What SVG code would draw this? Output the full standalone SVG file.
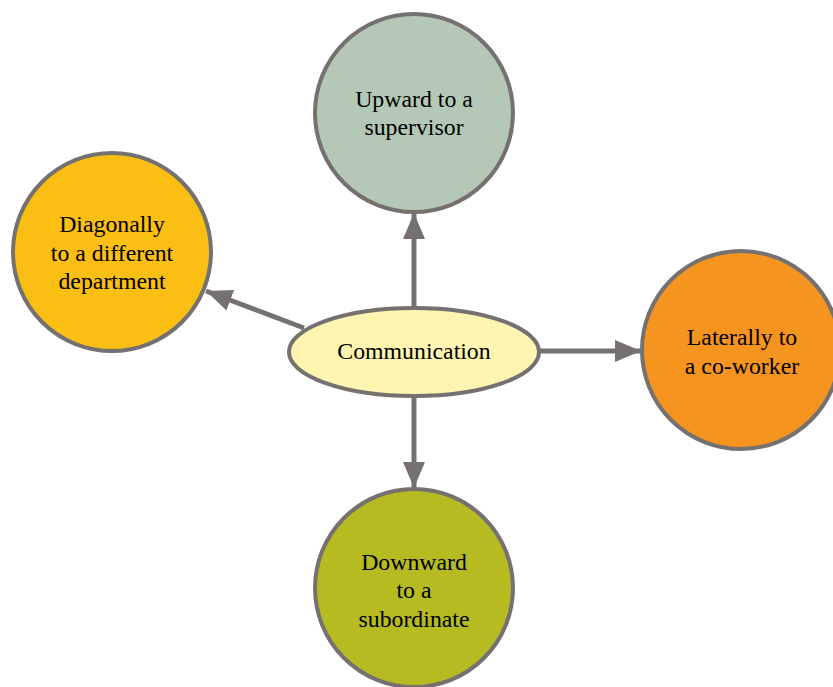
<svg xmlns="http://www.w3.org/2000/svg" width="833" height="687" viewBox="0 0 833 687">
<style>
.n{stroke:#767171;stroke-width:4}
.t{font-family:"Liberation Serif",serif;font-size:23.8px;fill:#000;text-anchor:middle}
.c{stroke:#767171;stroke-width:5;fill:none}
</style>
<defs>
<marker id="ah" markerUnits="userSpaceOnUse" markerWidth="28" markerHeight="22" refX="26" refY="11" orient="auto">
<path d="M0,0 L26,11 L0,22 Z" fill="#767171"/>
</marker>
</defs>
<rect width="833" height="687" fill="#fff"/>
<g id="connectors">
<line class="c" x1="414" y1="308" x2="414" y2="213" marker-end="url(#ah)"/>
<line class="c" x1="540" y1="351" x2="641" y2="351" marker-end="url(#ah)"/>
<line class="c" x1="414" y1="396" x2="414" y2="488" marker-end="url(#ah)"/>
<line class="c" x1="304" y1="328" x2="206" y2="291" marker-end="url(#ah)"/>
</g>
<g id="up">
<circle class="n" cx="414" cy="113" r="99" fill="#b5c7b5"/>
<text class="t" x="414" y="107">Upward to a</text>
<text class="t" x="414" y="135">supervisor</text>
</g>
<g id="diag">
<circle class="n" cx="112" cy="252" r="99" fill="#fbbe12"/>
<text class="t" x="112" y="232">Diagonally</text>
<text class="t" x="112" y="261">to a different</text>
<text class="t" x="112" y="289">department</text>
</g>
<g id="lat">
<circle class="n" cx="741" cy="350" r="99" fill="#f5941f"/>
<text class="t" x="742" y="345">Laterally to</text>
<text class="t" x="742" y="374">a co-worker</text>
</g>
<g id="down">
<circle class="n" cx="414" cy="588" r="99" fill="#b5bb20"/>
<text class="t" x="414" y="570">Downward</text>
<text class="t" x="414" y="598">to a</text>
<text class="t" x="414" y="627">subordinate</text>
</g>
<g id="comm">
<ellipse class="n" cx="414" cy="352" rx="125" ry="44" fill="#fff4b0"/>
<text class="t" x="414" y="359">Communication</text>
</g>
</svg>
